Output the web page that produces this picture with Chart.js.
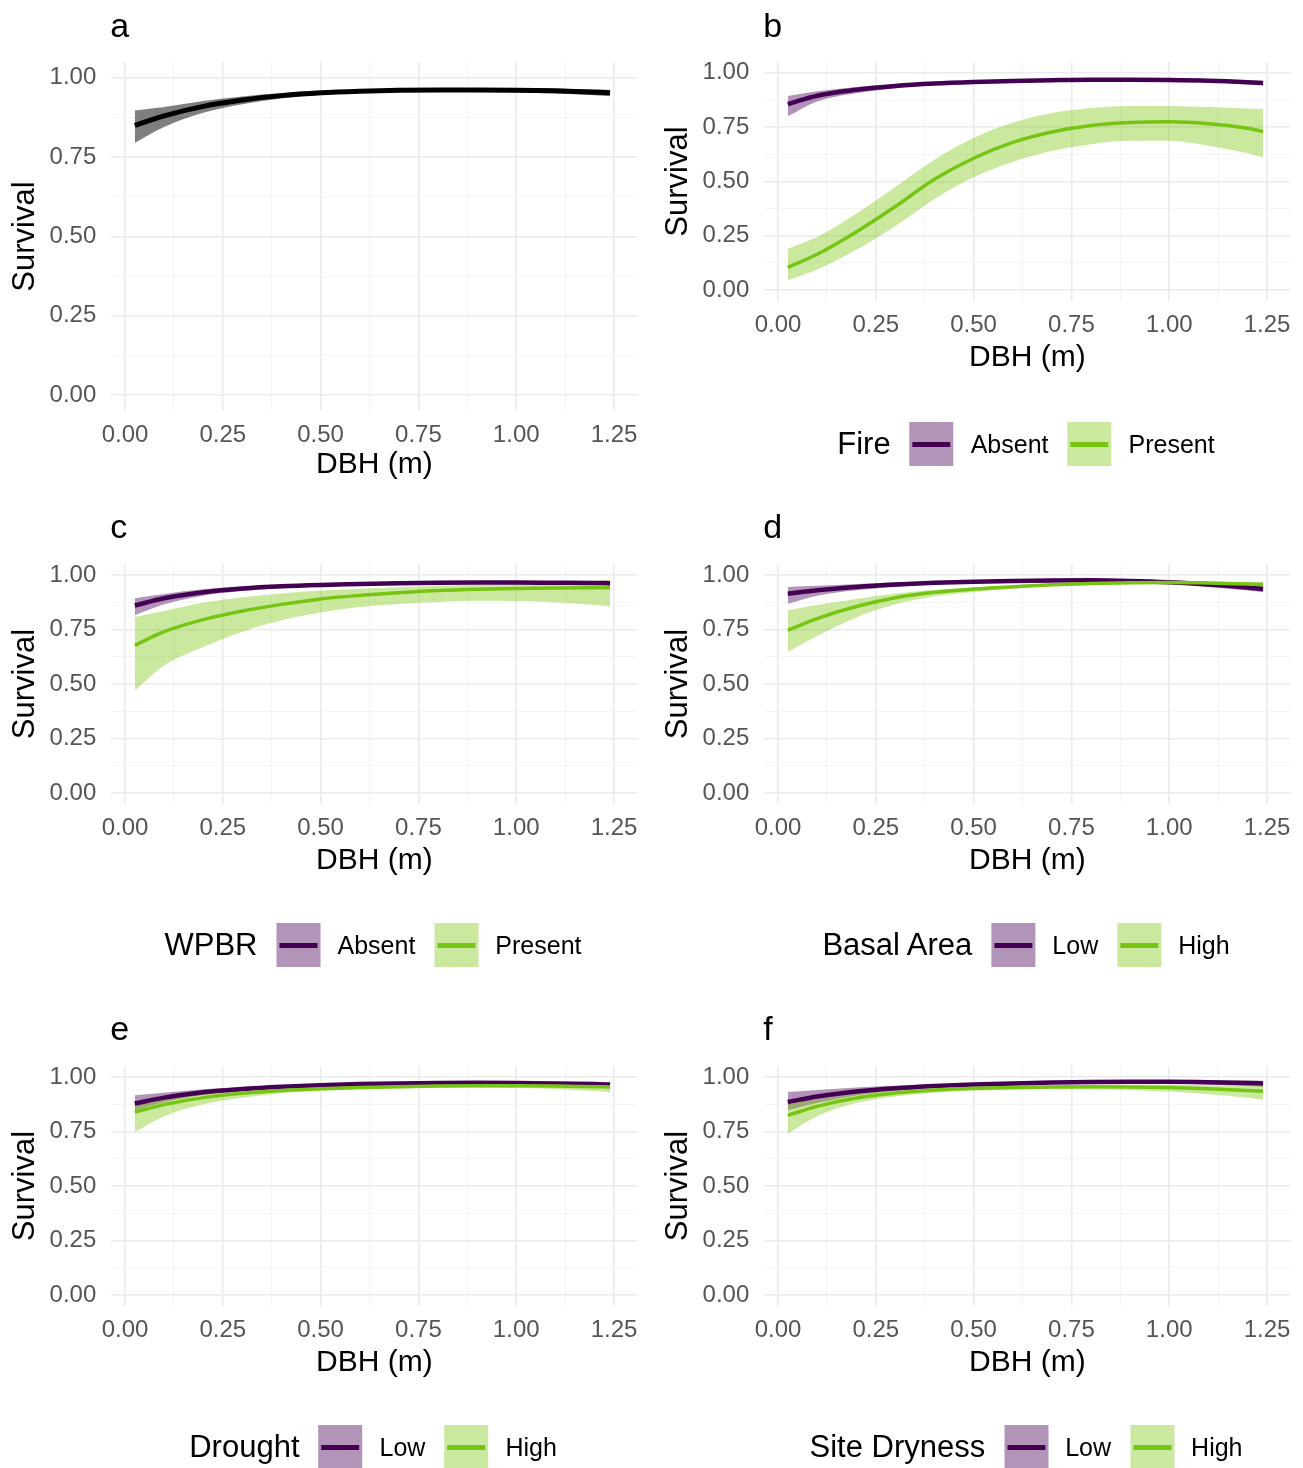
<!DOCTYPE html>
<html lang="en">
<head>
<meta charset="UTF-8">
<title>Survival vs DBH</title>
<script src="https://cdn.jsdelivr.net/npm/chart.js"></script>
<style>
  body { margin: 0; background: #fff; font-family: "Liberation Sans", Arial, sans-serif; }
  #page { position: relative; width: 1303px; height: 1468px; overflow: hidden; background: #fff; }
  canvas { position: absolute; }
  .legend { position: absolute; display: flex; align-items: center; white-space: nowrap; transform: translate(-50%, -50%); color: #000; }
  .legend .ttl { font-size: 31px; margin-right: 19px; }
  .legend .key { width: 44px; height: 44px; position: relative; margin-right: 17px; }
  .legend .key span { position: absolute; left: 3px; right: 3px; top: 50%; height: 5px; margin-top: -2.5px; }
  .legend .lab { font-size: 25px; margin-right: 19px; }
  .legend .lab:last-child { margin-right: 0; }
</style>
</head>
<body>
<div id="page"></div>

<script>
// DBH values where curves were read (m)
var dbh = [0.025, 0.1, 0.2, 0.3, 0.4, 0.5, 0.6, 0.7, 0.8, 0.9, 1.0, 1.1, 1.2, 1.24];
var xTicks = [0, 0.25, 0.5, 0.75, 1.0, 1.25];
var xMinor = [0.125, 0.375, 0.625, 0.875, 1.125];
var yTicks = [0, 0.25, 0.5, 0.75, 1.0];
var yMinor = [0.125, 0.375, 0.625, 0.875];

// a - overall
var allMean  = [0.850, 0.880, 0.910, 0.930, 0.944, 0.953, 0.958, 0.961, 0.962, 0.962, 0.961, 0.959, 0.955, 0.953];
var allUpper = [0.897, 0.908, 0.927, 0.941, 0.952, 0.959, 0.963, 0.966, 0.967, 0.967, 0.967, 0.966, 0.964, 0.962];
var allLower = [0.795, 0.845, 0.890, 0.917, 0.935, 0.946, 0.952, 0.955, 0.956, 0.956, 0.954, 0.951, 0.945, 0.942];

// b - fire
var fireAbsMean  = [0.856, 0.895, 0.922, 0.940, 0.951, 0.958, 0.963, 0.966, 0.968, 0.968, 0.967, 0.964, 0.957, 0.953];
var fireAbsUpper = [0.894, 0.915, 0.935, 0.949, 0.958, 0.964, 0.968, 0.971, 0.973, 0.973, 0.972, 0.970, 0.965, 0.962];
var fireAbsLower = [0.800, 0.868, 0.906, 0.929, 0.943, 0.952, 0.958, 0.961, 0.963, 0.963, 0.961, 0.957, 0.948, 0.943];
var firePreMean  = [0.105, 0.165, 0.268, 0.385, 0.510, 0.607, 0.680, 0.728, 0.758, 0.772, 0.775, 0.766, 0.745, 0.730];
var firePreUpper = [0.190, 0.245, 0.352, 0.475, 0.600, 0.700, 0.770, 0.815, 0.838, 0.847, 0.848, 0.843, 0.836, 0.833];
var firePreLower = [0.045, 0.095, 0.185, 0.295, 0.420, 0.520, 0.590, 0.640, 0.672, 0.687, 0.688, 0.665, 0.630, 0.610];

// c - WPBR
var wpbrAbsMean  = [0.860, 0.893, 0.921, 0.938, 0.948, 0.954, 0.958, 0.962, 0.964, 0.965, 0.965, 0.964, 0.963, 0.962];
var wpbrAbsUpper = [0.893, 0.913, 0.934, 0.947, 0.955, 0.960, 0.964, 0.967, 0.969, 0.970, 0.970, 0.970, 0.970, 0.970];
var wpbrAbsLower = [0.815, 0.865, 0.905, 0.926, 0.939, 0.947, 0.952, 0.956, 0.958, 0.959, 0.959, 0.957, 0.954, 0.952];
var wpbrPreMean  = [0.677, 0.740, 0.795, 0.835, 0.865, 0.890, 0.906, 0.918, 0.928, 0.934, 0.938, 0.940, 0.941, 0.941];
var wpbrPreUpper = [0.807, 0.835, 0.872, 0.898, 0.915, 0.928, 0.937, 0.944, 0.950, 0.955, 0.960, 0.965, 0.972, 0.975];
var wpbrPreLower = [0.470, 0.585, 0.670, 0.740, 0.792, 0.828, 0.853, 0.867, 0.876, 0.881, 0.880, 0.875, 0.862, 0.855];

// d - basal area
var baLowMean   = [0.914, 0.930, 0.945, 0.956, 0.964, 0.969, 0.972, 0.974, 0.975, 0.972, 0.966, 0.956, 0.942, 0.935];
var baLowUpper  = [0.945, 0.950, 0.958, 0.965, 0.970, 0.974, 0.977, 0.979, 0.980, 0.979, 0.975, 0.968, 0.955, 0.948];
var baLowLower  = [0.868, 0.905, 0.930, 0.945, 0.956, 0.963, 0.967, 0.969, 0.970, 0.967, 0.958, 0.945, 0.928, 0.920];
var baHighMean  = [0.746, 0.800, 0.855, 0.895, 0.920, 0.935, 0.946, 0.955, 0.961, 0.964, 0.965, 0.963, 0.958, 0.956];
var baHighUpper = [0.838, 0.862, 0.890, 0.915, 0.932, 0.944, 0.953, 0.961, 0.967, 0.970, 0.971, 0.970, 0.969, 0.969];
var baHighLower = [0.647, 0.720, 0.805, 0.865, 0.902, 0.922, 0.937, 0.948, 0.954, 0.957, 0.958, 0.955, 0.947, 0.943];

// e - drought
var drLowMean   = [0.878, 0.905, 0.930, 0.945, 0.955, 0.962, 0.967, 0.970, 0.972, 0.973, 0.972, 0.970, 0.967, 0.965];
var drLowUpper  = [0.916, 0.927, 0.943, 0.954, 0.962, 0.968, 0.972, 0.975, 0.977, 0.978, 0.977, 0.976, 0.974, 0.973];
var drLowLower  = [0.847, 0.884, 0.917, 0.936, 0.948, 0.956, 0.962, 0.965, 0.967, 0.967, 0.966, 0.963, 0.959, 0.957];
var drHighMean  = [0.839, 0.873, 0.905, 0.925, 0.938, 0.946, 0.951, 0.955, 0.958, 0.959, 0.959, 0.958, 0.955, 0.954];
var drHighUpper = [0.885, 0.900, 0.922, 0.938, 0.948, 0.955, 0.960, 0.963, 0.965, 0.967, 0.968, 0.968, 0.969, 0.970];
var drHighLower = [0.748, 0.820, 0.875, 0.905, 0.925, 0.936, 0.943, 0.947, 0.950, 0.951, 0.949, 0.945, 0.935, 0.930];

// f - site dryness
var sdLowMean   = [0.885, 0.910, 0.933, 0.948, 0.958, 0.965, 0.970, 0.974, 0.977, 0.978, 0.978, 0.976, 0.972, 0.970];
var sdLowUpper  = [0.931, 0.940, 0.951, 0.959, 0.966, 0.971, 0.975, 0.979, 0.982, 0.984, 0.985, 0.985, 0.983, 0.982];
var sdLowLower  = [0.847, 0.880, 0.915, 0.936, 0.949, 0.958, 0.964, 0.968, 0.971, 0.971, 0.969, 0.965, 0.958, 0.955];
var sdHighMean  = [0.824, 0.865, 0.903, 0.926, 0.940, 0.948, 0.952, 0.954, 0.955, 0.954, 0.951, 0.946, 0.938, 0.934];
var sdHighUpper = [0.878, 0.895, 0.922, 0.940, 0.952, 0.958, 0.961, 0.963, 0.964, 0.964, 0.963, 0.962, 0.961, 0.960];
var sdHighLower = [0.740, 0.820, 0.880, 0.910, 0.927, 0.936, 0.941, 0.943, 0.943, 0.940, 0.933, 0.920, 0.905, 0.895];

var PURPLE = '#440154', PURPLE_BAND = 'rgba(68,1,84,0.42)';
var GREEN = '#76C414', GREEN_BAND = 'rgba(122,199,12,0.4)';

function grp(name, mean, upper, lower, line, band, lw) {
    return { name: name, mean: mean, upper: upper, lower: lower, line: line, band: band, lw: lw };
}

// plotH = height of the plotting area in px
var panels = [
    { tag: 'a', left: 0, top: 0, w: 650, h: 490, yw: 111.3, padTop: 62, plotH: 349, xh: 79, yTitlePad: 7, legend: null,
      groups: [grp('', allMean, allUpper, allLower, '#000000', 'rgba(0,0,0,0.5)', 5)] },
    { tag: 'b', left: 650, top: 0, w: 653, h: 490, yw: 114.3, padTop: 62, plotH: 239, xh: 82, yTitlePad: 9.5, legend: 'Fire',
      groups: [grp('Absent', fireAbsMean, fireAbsUpper, fireAbsLower, PURPLE, PURPLE_BAND, 4.5),
               grp('Present', firePreMean, firePreUpper, firePreLower, GREEN, GREEN_BAND, 3.5)] },
    { tag: 'c', left: 0, top: 501, w: 650, h: 490, yw: 111.3, padTop: 63, plotH: 240, xh: 82, yTitlePad: 7, legend: 'WPBR',
      groups: [grp('Absent', wpbrAbsMean, wpbrAbsUpper, wpbrAbsLower, PURPLE, PURPLE_BAND, 4.5),
               grp('Present', wpbrPreMean, wpbrPreUpper, wpbrPreLower, GREEN, GREEN_BAND, 3.5)] },
    { tag: 'd', left: 650, top: 501, w: 653, h: 490, yw: 114.3, padTop: 63, plotH: 240, xh: 82, yTitlePad: 9.5, legend: 'Basal Area',
      groups: [grp('Low', baLowMean, baLowUpper, baLowLower, PURPLE, PURPLE_BAND, 4.5),
               grp('High', baHighMean, baHighUpper, baHighLower, GREEN, GREEN_BAND, 3.5)] },
    { tag: 'e', left: 0, top: 1003, w: 650, h: 465, yw: 111.3, padTop: 63, plotH: 240, xh: 82, yTitlePad: 7, legend: 'Drought',
      groups: [grp('Low', drLowMean, drLowUpper, drLowLower, PURPLE, PURPLE_BAND, 4.5),
               grp('High', drHighMean, drHighUpper, drHighLower, GREEN, GREEN_BAND, 3.5)] },
    { tag: 'f', left: 650, top: 1003, w: 653, h: 465, yw: 114.3, padTop: 63, plotH: 240, xh: 82, yTitlePad: 9.5, legend: 'Site Dryness',
      groups: [grp('Low', sdLowMean, sdLowUpper, sdLowLower, PURPLE, PURPLE_BAND, 4.5),
               grp('High', sdHighMean, sdHighUpper, sdHighLower, GREEN, GREEN_BAND, 3.5)] }
];

Chart.defaults.font.family = '"Liberation Sans", Arial, sans-serif';

function pts(arr) {
    return arr.map(function (v, i) { return { x: dbh[i], y: v }; });
}

// draws the panel letter in the top-left corner
var tagPlugin = {
    id: 'panelTag',
    afterDraw: function (chart, args, opts) {
        var ctx = chart.ctx;
        ctx.save();
        ctx.font = '34px "Liberation Sans", Arial, sans-serif';
        ctx.fillStyle = '#000';
        ctx.textBaseline = 'alphabetic';
        ctx.textAlign = 'left';
        ctx.fillText(opts.text, chart.chartArea.left - 1, 37);
        ctx.restore();
    }
};

var page = document.getElementById('page');
var allX = xTicks.concat(xMinor).sort(function (a, b) { return a - b; });
var allY = yTicks.concat(yMinor).sort(function (a, b) { return a - b; });

panels.forEach(function (p) {
    var cv = document.createElement('canvas');
    cv.width = p.w; cv.height = p.h;
    cv.style.left = p.left + 'px'; cv.style.top = p.top + 'px';
    page.appendChild(cv);

    var datasets = [];
    var n = p.groups.length;
    p.groups.forEach(function (g, i) {
        var common = { pointRadius: 0, cubicInterpolationMode: 'monotone' };
        datasets.push(Object.assign({ data: pts(g.upper), borderWidth: 0, borderColor: 'rgba(0,0,0,0)', fill: false, order: 20 + (n - i) }, common));
        datasets.push(Object.assign({ data: pts(g.lower), borderWidth: 0, borderColor: 'rgba(0,0,0,0)', backgroundColor: g.band, fill: '-1', order: 10 + (n - i) }, common));
        datasets.push(Object.assign({ data: pts(g.mean), borderWidth: g.lw, borderColor: g.line, fill: false, order: n - i, borderCapStyle: 'butt' }, common));
    });

    var isMajorX = function (c) { return xTicks.indexOf(c.tick.value) >= 0; };
    var isMajorY = function (c) { return yTicks.indexOf(c.tick.value) >= 0; };

    new Chart(cv, {
        type: 'line',
        data: { datasets: datasets },
        plugins: [tagPlugin],
        options: {
            responsive: false,
            animation: false,
            events: [],
            layout: { padding: { top: p.padTop, right: 12.5, left: 0, bottom: p.h - (p.padTop + p.plotH + p.xh) } },
            plugins: {
                legend: { display: false },
                tooltip: { enabled: false },
                panelTag: { text: p.tag }
            },
            scales: {
                x: {
                    type: 'linear', min: -0.035, max: 1.31,
                    afterBuildTicks: function (ax) { ax.ticks = allX.map(function (v) { return { value: v }; }); },
                    afterFit: function (ax) { ax.height = p.xh; },
                    border: { display: false },
                    grid: {
                        drawTicks: false,
                        color: function (c) { return isMajorX(c) ? '#ebebeb' : '#f4f4f4'; },
                        lineWidth: function (c) { return isMajorX(c) ? 1.6 : 1; }
                    },
                    ticks: {
                        autoSkip: false, maxRotation: 0, padding: 10, color: '#555', font: { size: 24 },
                        callback: function (v) { return xTicks.indexOf(v) >= 0 ? v.toFixed(2) : ''; }
                    },
                    title: { display: true, text: 'DBH (m)', color: '#000', font: { size: 30 }, padding: { top: 0, bottom: 7 } }
                },
                y: {
                    type: 'linear', min: -0.05, max: 1.05,
                    afterBuildTicks: function (ax) { ax.ticks = allY.map(function (v) { return { value: v }; }); },
                    afterFit: function (ax) { ax.width = p.yw; },
                    border: { display: false },
                    grid: {
                        drawTicks: false,
                        color: function (c) { return isMajorY(c) ? '#ebebeb' : '#f4f4f4'; },
                        lineWidth: function (c) { return isMajorY(c) ? 1.6 : 1; }
                    },
                    ticks: {
                        autoSkip: false, padding: 15, color: '#555', font: { size: 24 },
                        callback: function (v) { return yTicks.indexOf(v) >= 0 ? v.toFixed(2) : ''; }
                    },
                    title: { display: true, text: 'Survival', color: '#000', font: { size: 31 }, padding: { top: p.yTitlePad, bottom: 0 } }
                }
            }
        }
    });

    // legend row under the panel
    if (p.legend) {
        var lg = document.createElement('div');
        lg.className = 'legend';
        lg.style.left = (p.left + (p.left === 0 ? 373 : 376)) + 'px';
        lg.style.top = (p.top + 444) + 'px';
        var html = '<span class="ttl">' + p.legend + '</span>';
        p.groups.forEach(function (g) {
            html += '<div class="key" style="background:' + g.band + '"><span style="background:' + g.line + '"></span></div>' +
                    '<span class="lab">' + g.name + '</span>';
        });
        lg.innerHTML = html;
        page.appendChild(lg);
    }
});
</script>
</body>
</html>
